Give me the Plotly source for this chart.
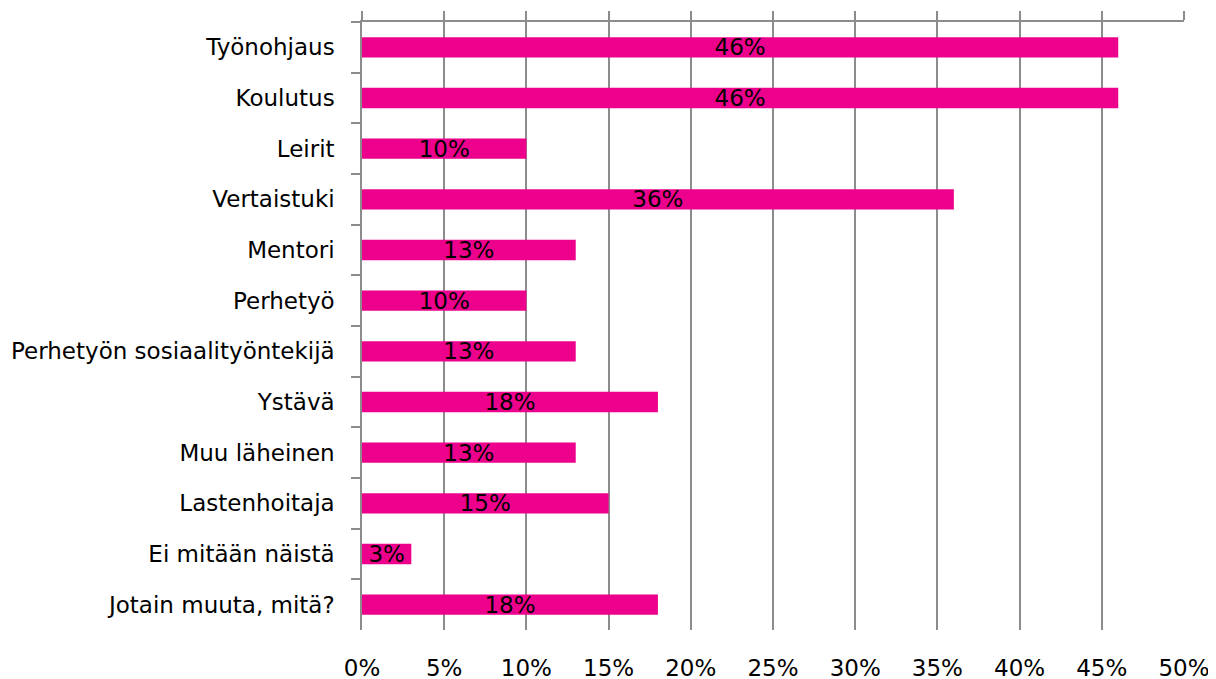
import plotly.graph_objects as go

categories = [
    "Työnohjaus",
    "Koulutus",
    "Leirit",
    "Vertaistuki",
    "Mentori",
    "Perhetyö",
    "Perhetyön sosiaalityöntekijä",
    "Ystävä",
    "Muu läheinen",
    "Lastenhoitaja",
    "Ei mitään näistä",
    "Jotain muuta, mitä?",
]
values = [46, 46, 10, 36, 13, 10, 13, 18, 13, 15, 3, 18]
tick_vals = [0, 5, 10, 15, 20, 25, 30, 35, 40, 45, 50]
tick_text = [f"{v}%" for v in tick_vals]

BAR = "#EC008C"
GRID = "#8C8C8C"
FONT = "DejaVu Sans"
FS = 23

fig = go.Figure()
fig.add_trace(go.Bar(
    x=values,
    y=categories,
    orientation="h",
    marker=dict(color=BAR, line=dict(width=0)),
    text=[f"{v}%" for v in values],
    textposition="inside",
    insidetextanchor="middle",
    constraintext="none",
    textangle=0,
    textfont=dict(family=FONT, size=FS, color="black"),
    cliponaxis=False,
    hoverinfo="skip",
))
# invisible trace to host the top axis
fig.add_trace(go.Scatter(x=[0], y=[categories[0]], xaxis="x2", mode="markers",
                         marker=dict(opacity=0), hoverinfo="skip", showlegend=False))

fig.update_layout(
    width=1216, height=679,
    margin=dict(l=354, r=40, t=14, b=57),
    plot_bgcolor="white", paper_bgcolor="white",
    showlegend=False,
    bargap=0.6,
    font=dict(family=FONT, size=FS, color="black"),
    xaxis=dict(
        range=[0, 50], tickvals=tick_vals, ticktext=tick_text,
        showgrid=True, gridcolor=GRID, gridwidth=1.5,
        zeroline=False, showline=False, ticks="",
        ticklabelstandoff=22, automargin=False,
        tickfont=dict(family=FONT, size=FS, color="black"),
        fixedrange=True,
    ),
    xaxis2=dict(
        range=[0, 50], tickvals=tick_vals, overlaying="x", side="top",
        showgrid=False, zeroline=False, showline=True, linecolor=GRID, linewidth=1.5,
        ticks="outside", ticklen=9, tickcolor=GRID, tickwidth=1.5,
        showticklabels=False, anchor="y", automargin=False,
    ),
    yaxis=dict(
        type="category",
        range=[len(categories) - 0.5, -0.5], autorange=False,
        showline=True, linecolor=GRID, linewidth=1.5,
        ticks="outside", ticklen=9, tickcolor=GRID, tickwidth=1.5,
        tickson="boundaries", showgrid=False, zeroline=False,
        ticklabelstandoff=21, automargin=False,
        tickfont=dict(family=FONT, size=FS, color="black"),
    ),
)

fig.write_html("out.html")
